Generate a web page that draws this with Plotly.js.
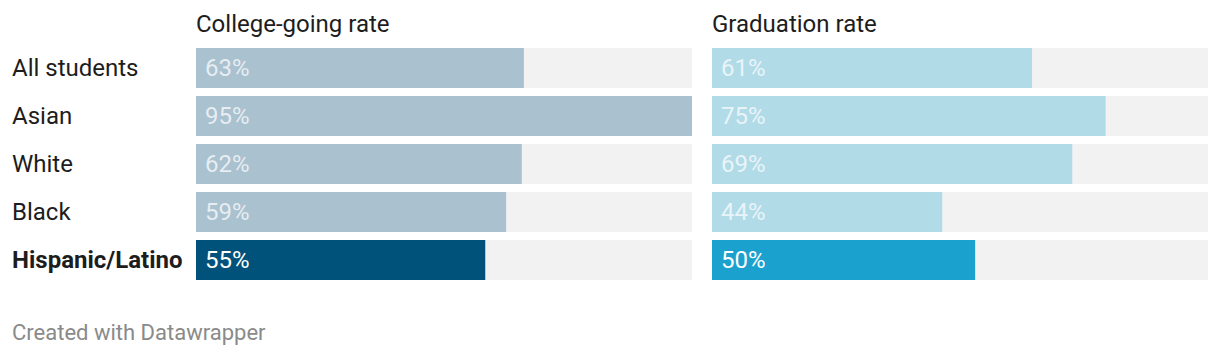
<!DOCTYPE html>
<html>
<head>
<meta charset="utf-8">
<script src="https://cdn.plot.ly/plotly-3.0.1.min.js"></script>
<style>html,body{margin:0;padding:0;background:#fff;}#chart{width:1220px;height:356px;}</style>
</head>
<body>
<div id="chart"></div>
<script>
var categories = ["All students", "Asian", "White", "Black", "Hispanic/Latino"];
var collegeGoing = [62.8, 95, 62.4, 59.4, 55.4];
var graduation = [61.3, 75.4, 69, 44.1, 50.4];
var panelTitles = ["College-going rate", "Graduation rate"];
var highlight = "Hispanic/Latino";
var scaleMax = 95;
var credit = "Created with Datawrapper";

var W = 1220, H = 356;
var FONT = "Roboto, 'Open Sans', sans-serif";
var colorsLeft = categories.map(function(c){ return c === highlight ? "#00527a" : "#aac1cf"; });
var colorsRight = categories.map(function(c){ return c === highlight ? "#1aa1ce" : "#b2dbe8"; });
var track = categories.map(function(){ return scaleMax; });

function trace(x, colors, xa) {
  return {type: "bar", orientation: "h", y: categories, x: x, xaxis: xa, yaxis: "y",
    marker: {color: colors}, width: 40/48, hoverinfo: "skip", textposition: "none"};
}
var data = [
  trace(track, categories.map(function(){return "#f2f2f2";}), "x"),
  trace(collegeGoing, colorsLeft, "x"),
  trace(track, categories.map(function(){return "#f2f2f2";}), "x2"),
  trace(graduation, colorsRight, "x2")
];

var annotations = [];
categories.forEach(function(c, i){
  var hl = c === highlight;
  annotations.push({xref: "paper", yref: "y", x: 12/W, y: c, xshift: -2, text: hl ? "<b>" + c + "</b>" : c,
    showarrow: false, xanchor: "left", yanchor: "middle", font: {family: FONT, size: 24, color: "#1d1d1d"}});
  [[collegeGoing, "x"], [graduation, "x2"]].forEach(function(p){
    annotations.push({xref: p[1], yref: "y", x: 0, y: c, xshift: 7, text: Math.round(p[0][i]) + "%",
      showarrow: false, xanchor: "left", yanchor: "middle",
      font: {family: FONT, size: 24, color: hl ? "#ffffff" : "rgba(255,255,255,0.72)"}});
  });
});
annotations.push({xref: "paper", yref: "paper", x: 196/W, y: 1 - 24/H, xshift: -2, text: panelTitles[0], showarrow: false,
  xanchor: "left", yanchor: "middle", font: {family: FONT, size: 24, color: "#1d1d1d"}});
annotations.push({xref: "paper", yref: "paper", x: 712/W, y: 1 - 24/H, xshift: -2, text: panelTitles[1], showarrow: false,
  xanchor: "left", yanchor: "middle", font: {family: FONT, size: 24, color: "#1d1d1d"}});
annotations.push({xref: "paper", yref: "paper", x: 12/W, y: 1 - 332/H, xshift: -2, text: credit, showarrow: false,
  xanchor: "left", yanchor: "middle", font: {family: FONT, size: 22, color: "#8a8a8a"}});

var layout = {
  width: W, height: H, margin: {l: 0, r: 0, t: 0, b: 0},
  paper_bgcolor: "#fff", plot_bgcolor: "rgba(0,0,0,0)",
  barmode: "overlay", showlegend: false,
  xaxis: {domain: [196/W, 692/W], range: [0, scaleMax], visible: false, fixedrange: true},
  xaxis2: {domain: [712/W, 1208/W], range: [0, scaleMax], visible: false, fixedrange: true, anchor: "y"},
  yaxis: {domain: [1 - 284/H, 1 - 44/H], range: [4.5, -0.5], visible: false, type: "category",
    categoryorder: "array", categoryarray: categories, fixedrange: true},
  annotations: annotations
};
Plotly.newPlot("chart", data, layout, {displayModeBar: false, staticPlot: true});
</script>
</body>
</html>
